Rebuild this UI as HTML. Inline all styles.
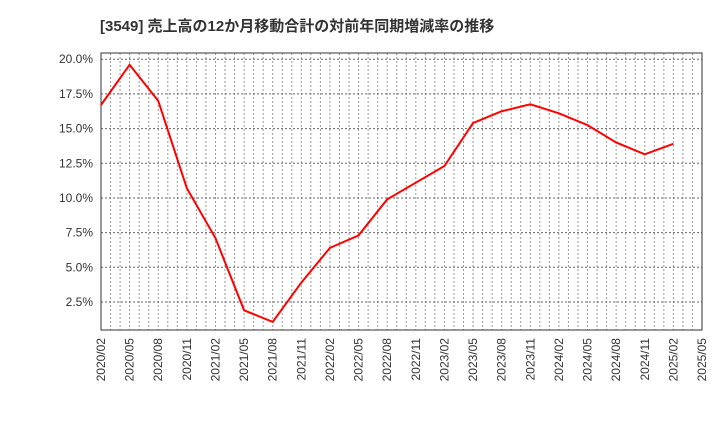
<!DOCTYPE html>
<html><head><meta charset="utf-8"><style>
body{margin:0;background:#fff;width:720px;height:440px;overflow:hidden}
text{font-family:"Liberation Sans","Noto Sans CJK JP",sans-serif}
</style></head><body>
<svg id="c" width="720" height="440">
<text x="100" y="31" font-size="15" font-weight="bold" fill="#333">[3549]  売上高の12か月移動合計の対前年同期増減率の推移</text>
<g id="grid"></g><g id="axes"></g><g id="series"></g>
</svg>
<script>
const xLabels=["2020/02","2020/05","2020/08","2020/11","2021/02","2021/05","2021/08","2021/11","2022/02","2022/05","2022/08","2022/11","2023/02","2023/05","2023/08","2023/11","2024/02","2024/05","2024/08","2024/11","2025/02","2025/05"];
const values=[16.7,19.6,17.0,10.7,7.1,1.9,1.06,3.9,6.4,7.3,9.9,11.1,12.3,15.4,16.25,16.75,16.1,15.25,14.0,13.15,13.9];
const yTicks=[2.5,5,7.5,10,12.5,15,17.5,20];
const L=101,R=702,T=53,B=330,yMin=0.48,yMax=20.45;
const NS="http://www.w3.org/2000/svg";
const X=i=>L+(R-L)*i/(xLabels.length-1);
const Y=v=>B-(v-yMin)/(yMax-yMin)*(B-T);
function mk(t,a,p){const e=document.createElementNS(NS,t);for(const k in a)e.setAttribute(k,a[k]);p.appendChild(e);return e;}
const g=document.getElementById('grid'),ax=document.getElementById('axes'),s=document.getElementById('series');
for(let m=1;m<(xLabels.length-1)*3;m++){const x=L+(R-L)*m/((xLabels.length-1)*3);
const l=mk('line',{x1:x,x2:x,y1:T,y2:B,stroke:'#999','stroke-dasharray':'2,2','stroke-width':1},g);

}
yTicks.forEach(v=>{const y=Y(v);
const l=mk('line',{x1:L,x2:R,y1:y,y2:y,stroke:'#666','stroke-dasharray':'2,2','stroke-width':1},g);


const t=mk('text',{x:L-8,y:y+4,'text-anchor':'end','font-size':12,fill:'#333'},ax);t.textContent=v.toFixed(1)+'%';

});
xLabels.forEach((lab,i)=>{const x=X(i);
const t=mk('text',{x:x+4,y:B+8,'text-anchor':'end','font-size':12,fill:'#333',transform:`rotate(-90 ${x+4} ${B+8})`},ax);t.textContent=lab;

});
const fr=mk('rect',{x:L,y:T,width:R-L,height:B-T,fill:'none',stroke:'#333','stroke-width':1},ax);


const p=mk('polyline',{points:values.map((v,i)=>X(i)+','+Y(v)).join(' '),fill:'none',stroke:'#f00','stroke-width':2},s);


</script>
</body></html>
